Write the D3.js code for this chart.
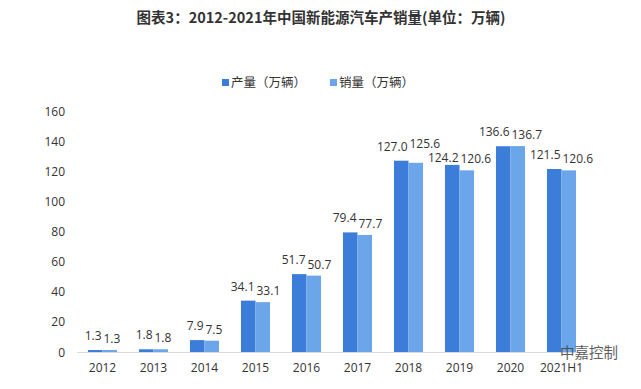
<!DOCTYPE html>
<html><head><meta charset="utf-8">
<script src="https://cdn.jsdelivr.net/npm/d3@7"></script>
<style>body{margin:0;background:#fff}svg{display:block}</style>
</head><body><svg id="c" width="641" height="389"></svg>
<script>
const categories = ["2012","2013","2014","2015","2016","2017","2018","2019","2020","2021H1"];
const production = [1.3,1.8,7.9,34.1,51.7,79.4,127.0,124.2,136.6,121.5];
const sales = [1.3,1.8,7.5,33.1,50.7,77.7,125.6,120.6,136.7,120.6];
const seriesNames = ["产量（万辆）","销量（万辆）"];
const yTicks = [0,20,40,60,80,100,120,140,160];
const title = "图表3：2012-2021年中国新能源汽车产销量(单位：万辆)";
const colors = ["#3b7dd8","#6ba5ea"];
const numFont = "'Open Sans','Liberation Sans',sans-serif";
const cjk = "'Noto Sans CJK SC',sans-serif";

const svg = d3.select("#c");
const x = d3.scaleBand().domain(categories).range([77,587]).paddingInner(0.43).paddingOuter(0.215);
const x1 = d3.scaleBand().domain([0,1]).range([0,x.bandwidth()]);
const y = d3.scaleLinear().domain([0,160]).range([352,111]);

svg.append("text").attr("x",321).attr("y",23).attr("text-anchor","middle")
  .attr("font-family",cjk).attr("font-weight","bold").attr("font-size",14.5).attr("fill","#333").text(title);

// legend
const lg = [[222,0],[330,1]];
lg.forEach(([lx,i])=>{
  svg.append("rect").attr("x",lx).attr("y",79).attr("width",7).attr("height",7).attr("fill",colors[i]);
  svg.append("text").attr("x",lx+9).attr("y",87).attr("font-family",cjk).attr("font-size",12.5).attr("fill","#333").text(seriesNames[i]);
});

// y axis labels
svg.append("g").selectAll("text").data(yTicks).join("text")
  .attr("x",65).attr("y",d=>y(d)+4.5).attr("text-anchor","end")
  .attr("font-family",numFont).attr("font-size",12).attr("fill","#333").text(d=>d);

// bars
const series = [production, sales];
series.forEach((vals,si)=>{
  svg.append("g").selectAll("rect").data(vals).join("rect")
    .attr("x",(d,i)=>x(categories[i])+x1(si)).attr("width",x1.bandwidth())
    .attr("y",d=>y(d)).attr("height",d=>y(0)-y(d)).attr("fill",colors[si]);
});

// baseline
svg.append("line").attr("x1",77).attr("x2",587).attr("y1",y(0)+0.5).attr("y2",y(0)+0.5).attr("stroke","#d9d9d9");

// value labels
const labelNodes = [];
categories.forEach((c,i)=>{
  series.forEach((vals,si)=>{
    const t = svg.append("text")
      .attr("x",x(c)+x.bandwidth()/2+(si===0?-1:1))
      .attr("y",y(vals[i])-(si===0?10:7))
      .attr("text-anchor",si===0?"end":"start")
      .attr("font-family",numFont).attr("font-size",12).attr("fill","#333").text(vals[i].toFixed(1));
    t.datum(vals[i]);
    labelNodes.push(t);
  });
});
// simple collision resolution between neighbouring labels: larger value goes up
for (let k=1;k<labelNodes.length;k++){
  const a = labelNodes[k-1], b = labelNodes[k];
  const ba = a.node().getBBox(), bb = b.node().getBBox();
  const hOver = ba.x+ba.width > bb.x+1 && bb.x+bb.width > ba.x+1;
  const ya = +a.attr("y"), yb = +b.attr("y");
  const need = 14;
  if (hOver && Math.abs(ya-yb) < need){
    const mid = (ya+yb)/2;
    if (a.datum() >= b.datum()){ a.attr("y",mid-need/2); b.attr("y",mid+need/2); }
    else { a.attr("y",mid+need/2); b.attr("y",mid-need/2); }
  }
}

// x labels
svg.append("g").selectAll("text").data(categories).join("text")
  .attr("x",d=>x(d)+x.bandwidth()/2).attr("y",372).attr("text-anchor","middle")
  .attr("font-family",numFont).attr("font-size",12).attr("fill","#333").text(d=>d);

// watermark text
svg.append("text").attr("x",560).attr("y",358).attr("font-family",cjk).attr("font-size",14.5).attr("fill","#444").attr("opacity",0.85).text("中嘉控制");
</script></body></html>
